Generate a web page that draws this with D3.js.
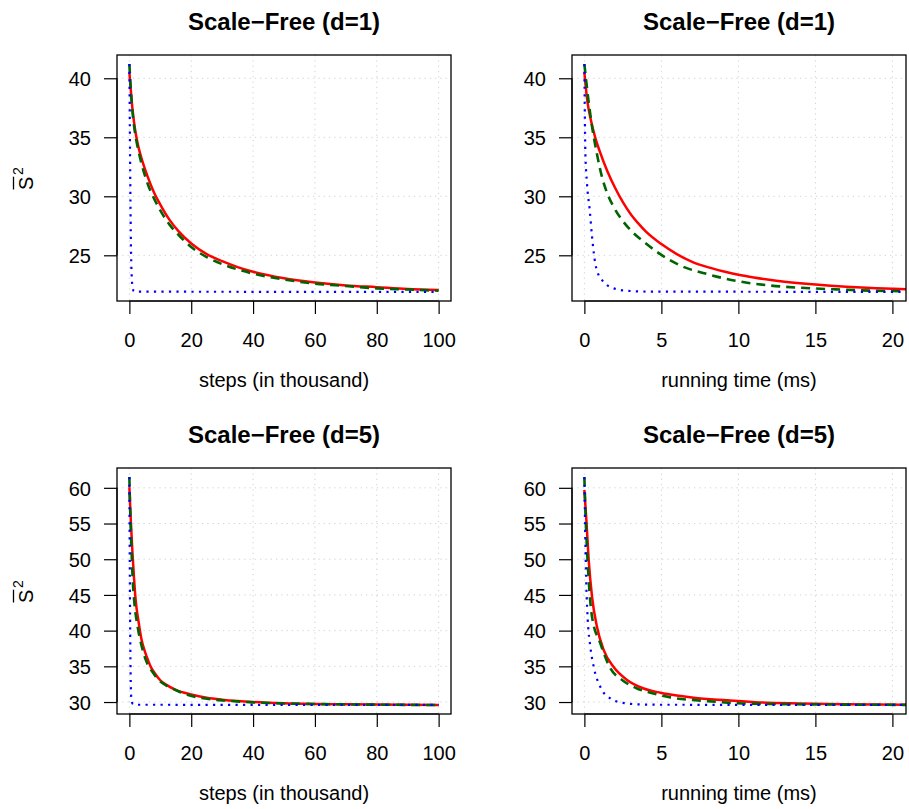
<!DOCTYPE html>
<html><head><meta charset="utf-8">
<script src="https://cdn.jsdelivr.net/npm/d3@7"></script>
<style>body{margin:0;background:#fff} svg{display:block}</style>
</head><body><svg id="c" width="909" height="809"></svg>
<script>
// ---------- data ----------
const titles = ["Scale\u2212Free (d=1)", "Scale\u2212Free (d=1)", "Scale\u2212Free (d=5)", "Scale\u2212Free (d=5)"];
const xLabels = ["steps (in thousand)", "running time (ms)", "steps (in thousand)", "running time (ms)"];
const stepTicks = [0, 20, 40, 60, 80, 100];
const timeTicks = [0, 5, 10, 15, 20];
const d1Ticks = [25, 30, 35, 40];
const d5Ticks = [30, 35, 40, 45, 50, 55, 60];
const stepsLim = [0, 100];
const timeLim = [0, 20.08];
const d1Lim = [21.9, 41.2];
const d5Lim = [29.6, 61.5];

// series: [x, y]
const d1StepsRed = [[0,40.5],[0.5,38.9],[1,37.4],[1.5,36.3],[2,35.4],[3,34.1],[4.3,32.9],[6,31.6],[8,30.3],[10,29.3],[13,28.0],[16,27.0],[20,26.0],[25,25.1],[30,24.5],[35,24.0],[40,23.6],[50,23.05],[60,22.7],[70,22.45],[80,22.3],[90,22.15],[100,22.05]];
const d1StepsGreen = [[0,41.2],[0.5,38.9],[1,37.2],[2,35.1],[3,33.8],[4,32.7],[6,31.0],[8,29.8],[10,28.8],[13,27.6],[16,26.7],[20,25.7],[25,24.85],[30,24.25],[35,23.8],[40,23.45],[50,22.95],[60,22.6],[70,22.4],[80,22.2],[90,22.1],[100,22.0]];
const d1StepsBlue = [[0,41.2],[0.15,36],[0.3,31],[0.45,27],[0.6,24.5],[0.8,23],[1.1,22.2],[1.5,21.95],[3,21.92],[100,21.9]];

const d1TimeRed = [[0,40.5],[0.2,38.0],[0.4,36.6],[0.7,35.0],[1,33.8],[1.5,32.1],[2,30.7],[2.5,29.5],[3,28.5],[3.5,27.7],[4,27.0],[5,25.95],[6,25.1],[7,24.45],[8,24.0],[9,23.65],[10,23.35],[11,23.12],[12,22.92],[13,22.76],[14,22.63],[15,22.52],[16,22.42],[17,22.34],[18,22.27],[19,22.21],[20,22.16],[21,22.12]];
const d1TimeGreen = [[0,41.2],[0.25,38.3],[0.5,35.9],[0.8,33.7],[1.15,31.6],[1.5,30.2],[1.9,29.1],[2.5,27.9],[3.1,27.0],[4,26.0],[4.7,25.3],[6.2,24.15],[8,23.4],[10,22.8],[12,22.45],[14,22.25],[16.2,22.12],[18,22.03],[21,21.95]];
const d1TimeBlue = [[0,41.2],[0.03,37],[0.06,33.9],[0.17,31.1],[0.35,28.8],[0.5,26.55],[0.71,24.3],[0.9,23.4],[1.15,22.9],[1.5,22.45],[1.9,22.2],[2.77,22.0],[4,21.93],[21,21.9]];

const d5StepsRed = [[0,60.1],[0.5,55.1],[1,50.9],[1.5,47.4],[2,44.45],[3,41.17],[4,38.6],[5,37.1],[6,35.9],[7,34.85],[8.5,33.86],[10,33.05],[12,32.4],[15,31.7],[20,31.05],[25,30.6],[30,30.33],[35,30.14],[40,30.0],[50,29.82],[60,29.73],[70,29.68],[80,29.65],[90,29.62],[100,29.6]];
const d5StepsGreen = [[0,61.5],[0.25,57],[0.55,53.1],[1.08,47.1],[1.6,44],[2.7,40.5],[4,37.8],[5.4,35.8],[7.5,34.2],[9.7,33.0],[12,32.3],[15.1,31.65],[19,31.0],[22.7,30.6],[27,30.35],[31.3,30.2],[40,29.95],[50,29.8],[60,29.72],[70,29.67],[80,29.63],[90,29.6],[100,29.58]];
const d5StepsBlue = [[0,61.5],[0.1,52],[0.2,44],[0.35,36],[0.55,31],[0.8,30.0],[1.2,29.7],[2,29.62],[100,29.6]];

const d5TimeRed = [[0,59.7],[0.13,55.5],[0.28,49.9],[0.5,44.7],[0.82,40.5],[1.25,37.3],[1.9,34.9],[2.77,33.1],[3.85,31.9],[4.94,31.3],[6,30.9],[7.1,30.6],[9.27,30.25],[11.4,29.95],[14,29.8],[17,29.7],[21,29.62]];
const d5TimeGreen = [[0,61.5],[0.09,55.5],[0.28,47.1],[0.5,41.9],[1.04,38.2],[1.69,34.7],[2.45,33.1],[3.42,31.9],[4.29,31.3],[5.58,30.65],[7.75,30.17],[10.3,29.8],[13,29.7],[16,29.65],[21,29.6]];
const d5TimeBlue = [[0,61.5],[0.06,53.1],[0.13,46.1],[0.22,41.5],[0.39,37.7],[0.61,34.9],[1.04,32.1],[1.69,30.5],[2.2,30.0],[2.77,29.8],[3.5,29.68],[4.94,29.62],[21,29.6]];

// ---------- layout ----------
const panels = [
  {title: titles[0], xlab: xLabels[0], xlim: stepsLim, ylim: d1Lim, xt: stepTicks, yt: d1Ticks, s: [d1StepsRed, d1StepsGreen, d1StepsBlue], l: 117, t: 55, ylab: true},
  {title: titles[1], xlab: xLabels[1], xlim: timeLim, ylim: d1Lim, xt: timeTicks, yt: d1Ticks, s: [d1TimeRed, d1TimeGreen, d1TimeBlue], l: 572, t: 55, ylab: false},
  {title: titles[2], xlab: xLabels[2], xlim: stepsLim, ylim: d5Lim, xt: stepTicks, yt: d5Ticks, s: [d5StepsRed, d5StepsGreen, d5StepsBlue], l: 117, t: 468, ylab: true},
  {title: titles[3], xlab: xLabels[3], xlim: timeLim, ylim: d5Lim, xt: timeTicks, yt: d5Ticks, s: [d5TimeRed, d5TimeGreen, d5TimeBlue], l: 572, t: 468, ylab: false}
];
const W = 334, H = 246;
const styles = [
  {color: "#ff0000", w: 2.5, dash: null},
  {color: "#006400", w: 2.6, dash: "9,6"},
  {color: "#0000ff", w: 2.2, dash: "2.2,5.3"}
];
const FONT = "'Liberation Sans', Arial, Helvetica, sans-serif";
const svg = d3.select("#c").style("font-family", FONT);

function pad(lim) { const r = lim[1] - lim[0]; return [lim[0] - 0.04 * r, lim[1] + 0.04 * r]; }

panels.forEach((p, i) => {
  const x = d3.scaleLinear().domain(pad(p.xlim)).range([p.l, p.l + W]);
  const y = d3.scaleLinear().domain(pad(p.ylim)).range([p.t + H, p.t]);
  const g = svg.append("g");

  // grid
  g.selectAll(".gx").data(p.xt).join("line")
    .attr("x1", d => x(d)).attr("x2", d => x(d)).attr("y1", p.t).attr("y2", p.t + H)
    .attr("stroke", "#d3d3d3").attr("stroke-width", 1).attr("stroke-dasharray", "1.3,4");
  g.selectAll(".gy").data(p.yt).join("line")
    .attr("y1", d => y(d)).attr("y2", d => y(d)).attr("x1", p.l).attr("x2", p.l + W)
    .attr("stroke", "#d3d3d3").attr("stroke-width", 1).attr("stroke-dasharray", "1.3,4");

  // clip
  const cid = "clip" + i;
  svg.append("clipPath").attr("id", cid).append("rect")
    .attr("x", p.l).attr("y", p.t).attr("width", W).attr("height", H);

  const line = d3.line().x(d => x(d[0])).y(d => y(d[1])).curve(d3.curveMonotoneX);
  const lg = g.append("g").attr("clip-path", `url(#${cid})`);
  p.s.forEach((ser, k) => {
    const st = styles[k];
    lg.append("path").datum(ser).attr("d", line)
      .attr("fill", "none").attr("stroke", st.color).attr("stroke-width", st.w)
      .attr("stroke-dasharray", st.dash).attr("stroke-linejoin", "round");
  });

  // axes
  const xa = d3.axisBottom(x).tickValues(p.xt).tickSize(13).tickPadding(19).tickFormat(d3.format("d"));
  const ax = g.append("g").attr("transform", `translate(0,${p.t + H})`).call(xa);
  ax.select(".domain").attr("d", `M${x(p.xt[0])},0H${x(p.xt[p.xt.length - 1])}`);
  const ya = d3.axisLeft(y).tickValues(p.yt).tickSize(13).tickPadding(13).tickFormat(d3.format("d"));
  const ay = g.append("g").attr("transform", `translate(${p.l},0)`).call(ya);
  ay.select(".domain").attr("d", `M0,${y(p.yt[0])}V${y(p.yt[p.yt.length - 1])}`);
  [ax, ay].forEach(a => {
    a.attr("font-family", FONT).attr("font-size", 20);
    a.selectAll("line, .domain").attr("stroke", "#000").attr("stroke-width", 1.2);
    a.selectAll("text").attr("fill", "#000");
  });
  ay.selectAll("text").attr("dy", "0.36em");

  // box
  g.append("rect").attr("x", p.l).attr("y", p.t).attr("width", W).attr("height", H)
    .attr("fill", "none").attr("stroke", "#000").attr("stroke-width", 1.3);

  // title
  g.append("text").attr("x", p.l + W / 2).attr("y", p.t - 25)
    .attr("text-anchor", "middle").attr("font-size", 24).attr("font-weight", "bold").text(p.title);
  // x label
  g.append("text").attr("x", p.l + W / 2).attr("y", p.t + H + 86)
    .attr("text-anchor", "middle").attr("font-size", 20).text(p.xlab);

  // y label (S-bar squared)
  if (p.ylab) {
    const cy = p.t + H / 2;
    const yl = g.append("g").attr("transform", `translate(33,${cy + 12}) rotate(-90)`);
    yl.append("text").attr("x", 0).attr("y", 0).attr("font-size", 20).text("S");
    yl.append("text").attr("x", 15).attr("y", -10).attr("font-size", 14).text("2");
    yl.append("line").attr("x1", 0.5).attr("x2", 13.3).attr("y1", -19.5).attr("y2", -19.5)
      .attr("stroke", "#000").attr("stroke-width", 1.3);
  }
});
</script>
</body></html>
